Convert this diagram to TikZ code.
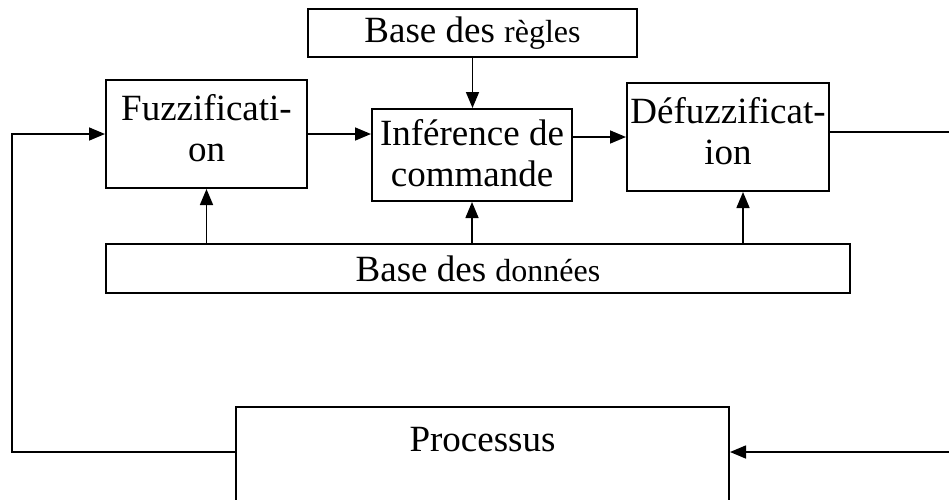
\documentclass[tikz,border=0pt]{standalone}
\usepackage{fontspec}
\setmainfont{Liberation Serif}
\usetikzlibrary{arrows.meta}
\begin{document}
\begin{tikzpicture}[x=1pt,y=-1pt,
  bloc/.style={draw,line width=2pt,align=center,inner sep=0pt,
    font=\fontsize{37}{41}\selectfont},
  fleche/.style={line width=1.6pt,-{Triangle[length=16pt,width=13pt]}},
  trait/.style={line width=1.6pt}]

%Picture frame
\clip (0,0) rectangle (949,499);

%Small text size
\def\petit{\fontsize{32}{36}\selectfont}

%Marking blocks
\node[bloc,minimum width=329,minimum height=48] (regles) at (472.5,33) {Base des {\petit règles}};
\node[bloc,minimum width=201,text height=81,text depth=27,anchor=north] (fuzz) at (206.5,79) {Fuzzificati-\\on};
\node[bloc,minimum width=200,text height=77,text depth=15,anchor=north] (inf) at (472,108) {Inférence de\\commande};
\node[bloc,minimum width=202,text height=81,text depth=27,anchor=north] (defuzz) at (728,82) {Défuzzificat-\\ion};
\node[bloc,minimum width=744,minimum height=49] (donnees) at (478,268.5) {Base des {\petit données}};
\node[bloc,minimum width=493,text height=44,text depth=76,anchor=north] (proc) at (482.5,406) {Processus};

%Marking loop coordinates
\coordinate (L) at (12,452);
\coordinate (R) at (949,452);
\coordinate (S) at (949,132);
\coordinate (D) at (743,0);

%Drawing main chain
\draw[fleche] (regles.south) -- (regles.south |- inf.north);
\draw[fleche] (fuzz.east) -- (fuzz.east -| inf.west);
\draw[fleche] (defuzz.west -| inf.east) -- (defuzz.west);
\draw[trait] (S -| defuzz.east) -- (S);

%Drawing data links
\draw[fleche] (donnees.north -| fuzz.south) -- (fuzz.south);
\draw[fleche] (donnees.north -| inf.south) -- (inf.south);
\draw[fleche] (donnees.north -| D) -- (defuzz.south -| D);

%Drawing feedback loop
\draw[fleche] (L -| proc.west) -- (L) |- (fuzz.west);
\draw[fleche] (R) -- (R -| proc.east);
\end{tikzpicture}
\end{document}
